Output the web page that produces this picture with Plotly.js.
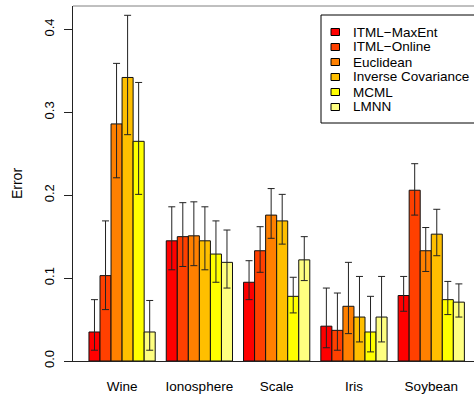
<!DOCTYPE html>
<html>
<head>
<meta charset="utf-8">
<script src="https://cdn.plot.ly/plotly-3.0.1.min.js"></script>
<style>html,body{margin:0;padding:0;background:#fff;}#chart{width:474px;height:394px;}</style>
</head>
<body>
<div id="chart"></div>
<script>
// Data sets (categories)
const datasets = ["Wine", "Ionosphere", "Scale", "Iris", "Soybean"];
// Methods (series)
const methods = ["ITML\u2212MaxEnt", "ITML\u2212Online", "Euclidean", "Inverse Covariance", "MCML", "LMNN"];
const colors = ["#FF0000", "#FF4000", "#FF8000", "#FFBF00", "#FFFF00", "#FFFF80"];

// Mean error per method, in dataset order
const itmlMaxEnt = [0.035, 0.145, 0.095, 0.042, 0.079];
const itmlOnline = [0.103, 0.150, 0.133, 0.037, 0.206];
const euclidean  = [0.286, 0.151, 0.176, 0.066, 0.133];
const invCov     = [0.342, 0.145, 0.169, 0.053, 0.153];
const mcml       = [0.265, 0.129, 0.078, 0.035, 0.074];
const lmnn       = [0.035, 0.119, 0.122, 0.053, 0.071];

// Upper ends of the error bars
const itmlMaxEntHi = [0.074, 0.186, 0.121, 0.088, 0.102];
const itmlOnlineHi = [0.169, 0.191, 0.162, 0.082, 0.238];
const euclideanHi  = [0.359, 0.192, 0.208, 0.119, 0.161];
const invCovHi     = [0.417, 0.186, 0.201, 0.102, 0.183];
const mcmlHi       = [0.336, 0.169, 0.101, 0.078, 0.096];
const lmnnHi       = [0.073, 0.158, 0.150, 0.102, 0.093];

// Lower ends of the error bars
const itmlMaxEntLo = [0.013, 0.110, 0.074, 0.016, 0.060];
const itmlOnlineLo = [0.062, 0.114, 0.107, 0.013, 0.176];
const euclideanLo  = [0.221, 0.115, 0.148, 0.033, 0.108];
const invCovLo     = [0.273, 0.110, 0.141, 0.023, 0.127];
const mcmlLo       = [0.201, 0.095, 0.058, 0.011, 0.056];
const lmnnLo       = [0.013, 0.088, 0.097, 0.023, 0.053];

const yTicks = [0, 0.1, 0.2, 0.3, 0.4];
const yTickText = ["0.0", "0.1", "0.2", "0.3", "0.4"];

const values = [itmlMaxEnt, itmlOnline, euclidean, invCov, mcml, lmnn];
const highs = [itmlMaxEntHi, itmlOnlineHi, euclideanHi, invCovHi, mcmlHi, lmnnHi];
const lows = [itmlMaxEntLo, itmlOnlineLo, euclideanLo, invCovLo, mcmlLo, lmnnLo];

const FONT = "Liberation Sans, Arial, Helvetica, sans-serif";

const traces = methods.map((name, i) => ({
  type: "bar",
  name: name,
  x: datasets,
  y: values[i],
  marker: { color: colors[i], line: { color: "#111", width: 1 } },
  error_y: {
    type: "data",
    symmetric: false,
    array: highs[i].map((h, j) => h - values[i][j]),
    arrayminus: values[i].map((v, j) => v - lows[i][j]),
    color: "#222",
    thickness: 1,
    width: 3.5
  },
  showlegend: false,
  hoverinfo: "skip"
}));

// Manual legend (R-style box with tight rows)
const W = 474, H = 394, ML = 73, MT = 6, MB = 33;
const PW = W - ML, PH = H - MT - MB;
const px = v => (v - ML) / PW;
const py = v => (H - MB - v) / PH;

const shapes = [
  { type: "line", xref: "paper", yref: "paper", x0: 0, x1: 1.05, y0: 1, y1: 1, line: { color: "#808080", width: 1 } },
  { type: "rect", xref: "paper", yref: "paper", x0: px(321), x1: 1.2, y0: py(123), y1: py(15), line: { color: "#000", width: 1 }, fillcolor: "rgba(0,0,0,0)" }
];
const annotations = [];
methods.forEach((name, i) => {
  const yc = 32 + 15 * i;
  shapes.push({ type: "rect", xref: "paper", yref: "paper", x0: px(331), x1: px(339.5), y0: py(yc + 3.5), y1: py(yc - 3.5), line: { color: "#000", width: 1 }, fillcolor: colors[i] });
  annotations.push({ xref: "paper", yref: "paper", x: px(351), y: py(yc), xanchor: "left", yanchor: "middle", showarrow: false, text: name, font: { family: FONT, size: 13.5, color: "#000" } });
});

const layout = {
  width: W, height: H,
  margin: { l: ML, r: 0, t: MT, b: MB, pad: 0 },
  paper_bgcolor: "#fff", plot_bgcolor: "#fff",
  barmode: "group",
  bargap: 1 / 7,
  bargroupgap: 0,
  font: { family: FONT, color: "#000" },
  xaxis: {
    type: "category",
    range: [-0.635, 4.553],
    showline: true, linecolor: "#222", linewidth: 1,
    ticks: "", showgrid: false, zeroline: false,
    tickfont: { family: FONT, size: 13.5, color: "#000" },
    ticklabelstandoff: 13
  },
  yaxis: {
    range: [0, (H - MB - MT) / 829],
    tickvals: yTicks, ticktext: yTickText,
    ticks: "outside", ticklen: 8, tickcolor: "#222", tickwidth: 1,
    tickangle: -90,
    showline: true, linecolor: "#222", linewidth: 1,
    showgrid: false, zeroline: false,
    tickfont: { family: FONT, size: 13, color: "#000" },
    ticklabelstandoff: 5,
    title: { text: "Error", font: { family: FONT, size: 14, color: "#000" }, standoff: 15 }
  },
  shapes: shapes,
  annotations: annotations
};

Plotly.newPlot("chart", traces, layout, { displayModeBar: false, staticPlot: true });
</script>
</body>
</html>
